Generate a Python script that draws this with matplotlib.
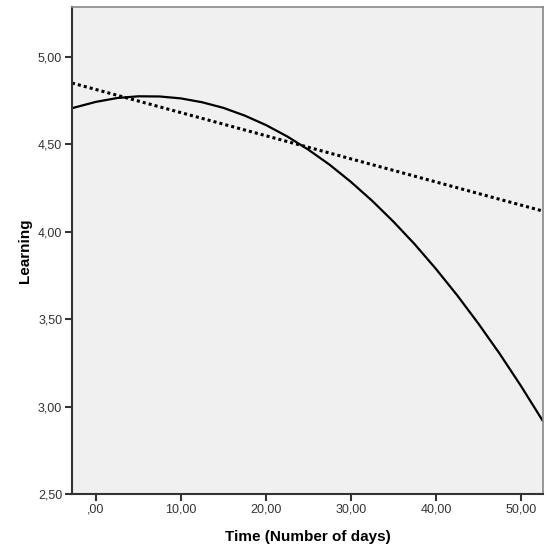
import numpy as np
import matplotlib.pyplot as plt

plt.rcParams['font.family'] = ['Liberation Sans', 'DejaVu Sans']

# quadratic fit, values
days_quad = [-2.8, 0, 2.5, 5, 7.5, 10, 12.5, 15, 17.5, 20, 22.5, 25, 27.5,
             30, 32.5, 35, 37.5, 40, 42.5, 45, 47.5, 50, 52.6]
learn_quad = [4.705, 4.741, 4.763, 4.773, 4.772, 4.761, 4.739, 4.707, 4.663,
              4.609, 4.544, 4.468, 4.382, 4.284, 4.176, 4.057, 3.928, 3.787,
              3.636, 3.474, 3.302, 3.118, 2.916]

# linear fit
days_lin = [-2.8, 52.6]
learn_lin = [4.849, 4.117]

x_ticks = [0, 10, 20, 30, 40, 50]
x_tick_labels = [',00', '10,00', '20,00', '30,00', '40,00', '50,00']
y_ticks = [2.5, 3.0, 3.5, 4.0, 4.5, 5.0]
y_tick_labels = ['2,50', '3,00', '3,50', '4,00', '4,50', '5,00']

fig = plt.figure(figsize=(5.49, 5.51), dpi=100)
ax = fig.add_axes([0.1311, 0.1034, 0.858, 0.8838])
ax.set_facecolor('#f0f0f0')

ax.plot(days_quad, learn_quad, color='black', lw=1.6, solid_capstyle='butt')
ax.plot(days_lin, learn_lin, color='black', lw=2.2, linestyle=(0, (1, 1)))

ax.set_xlim(-2.8, 52.6)
ax.set_ylim(2.5, 5.283)
ax.set_xticks(x_ticks)
ax.set_xticklabels(x_tick_labels)
ax.set_yticks(y_ticks)
ax.set_yticklabels(y_tick_labels)
ax.tick_params(direction='out', length=5, width=1.5, color='#333333',
               labelsize=9, labelcolor='#333333', pad=2)

for side in ['left', 'bottom']:
    ax.spines[side].set_color('#333333')
    ax.spines[side].set_linewidth(1.5)
for side in ['top', 'right']:
    ax.spines[side].set_color('#888888')
    ax.spines[side].set_linewidth(1.2)

ax.set_xlabel('Time (Number of days)', fontsize=11, fontweight='bold', labelpad=10)
ax.set_ylabel('Learning', fontsize=11, fontweight='bold', labelpad=4)

fig.savefig('out.png', dpi=100)
